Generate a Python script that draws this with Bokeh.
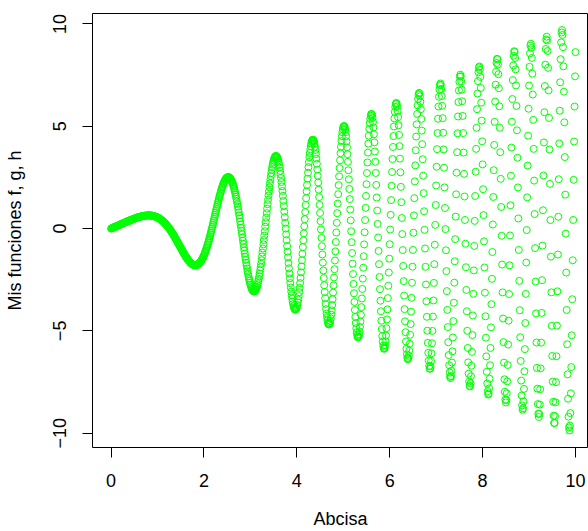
import numpy as np
from bokeh.plotting import figure
from bokeh.models import Range1d, FixedTicker
from bokeh.embed import file_html
from bokeh.resources import INLINE

# Sampled abscissa (0 to 10, step 0.01) and the plotted function f(x) = x*cos(x^2)
x_vals = np.round(np.arange(0, 1001) * 0.01, 2)
f_vals = x_vals * np.cos(x_vals ** 2)

x_ticks = [0, 2, 4, 6, 8, 10]
y_ticks = [-10, -5, 0, 5, 10]
x_title = "Abcisa"
y_title = "Mis funciones f, g, h"

FONT = "Liberation Sans"
FS = "18px"

p = figure(width=588, height=531,
           x_range=Range1d(-0.4, 10.28), y_range=Range1d(-10.70, 10.51),
           output_backend="svg", toolbar_location=None,
           min_border_left=92, min_border_top=13, min_border_right=0, min_border_bottom=84)

p.scatter(x_vals, f_vals, marker="circle", size=7, fill_color=None,
          line_color="#00FF00", line_width=1)

p.grid.visible = False
p.outline_line_color = "black"
p.outline_line_width = 1
p.background_fill_color = "white"
p.border_fill_color = "white"

for ax, ticks in ((p.xaxis, x_ticks), (p.yaxis, y_ticks)):
    ax.ticker = FixedTicker(ticks=ticks)
    ax.axis_line_color = None
    ax.major_tick_in = 0
    ax.major_tick_out = 10
    ax.major_tick_line_color = "black"
    ax.minor_tick_line_color = None
    ax.major_label_text_font = FONT
    ax.major_label_text_font_size = FS
    ax.major_label_text_color = "black"
    ax.axis_label_text_font = FONT
    ax.axis_label_text_font_size = FS
    ax.axis_label_text_font_style = "normal"
    ax.axis_label_text_color = "black"

p.xaxis.axis_label = x_title
p.yaxis.axis_label = y_title
p.xaxis.major_label_standoff = 16
p.xaxis.axis_label_standoff = 19
p.yaxis.major_label_orientation = "vertical"
p.yaxis.major_label_standoff = 16
p.yaxis.axis_label_standoff = 26

open("out.html", "w").write(file_html(p, INLINE))
